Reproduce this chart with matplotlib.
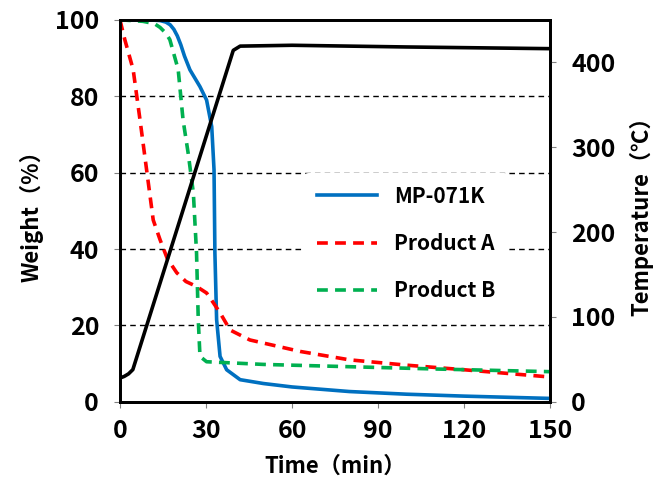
import matplotlib.pyplot as plt
import numpy as np

plt.rcParams['font.family'] = ['Noto Sans CJK JP', 'DejaVu Sans']

# weight curves (time in min, weight in %)
t_mp = [0, 10, 14, 16, 17.5, 18.8, 20, 21.2, 22.5, 24.4, 27.9, 30.2, 32, 32.8, 33.1, 33.7, 34.9, 37.2, 41.9, 50, 60, 80, 100, 120, 150]
w_mp = [100, 100, 99.8, 99.4, 98.7, 97.5, 95.8, 93.5, 90.5, 86.9, 82.5, 79, 72, 60.7, 39, 21.5, 11.9, 8.4, 5.8, 4.8, 3.9, 2.7, 2.0, 1.5, 0.9]

t_a = [0, 1.7, 4.6, 7, 9.3, 11.6, 14, 16.5, 19.8, 23, 26.7, 30.2, 32.5, 34.9, 38.4, 45.3, 62.8, 80, 100, 120, 150]
w_a = [100, 94.8, 87, 73.8, 60.7, 47.6, 42.4, 37.5, 33.8, 31.5, 30.2, 28.5, 26, 23.3, 18.8, 16.2, 13.2, 11, 9.6, 8.4, 6.5]

t_b = [0, 8, 12, 14, 16, 17.4, 20.3, 22, 23.8, 25.6, 26.7, 27.3, 27.9, 30.2, 50, 80, 110, 150]
w_b = [100, 99.6, 99, 98, 96.5, 94.8, 87, 73.8, 65, 54.6, 39, 21.5, 11.9, 10.5, 9.8, 9.2, 8.6, 7.9]

# temperature program (time in min, temperature in C)
t_temp = [0, 1.5, 3, 4.5, 39.5, 41.9, 60, 100, 150]
temp = [28, 30, 33, 38, 414, 419, 420, 418, 416]

fig = plt.figure(figsize=(6.59, 4.83), dpi=100)
ax = fig.add_axes([0.182, 0.168, 0.653, 0.791])
ax2 = ax.twinx()

for yv in [20, 40, 60, 80]:
    ax.axhline(yv, color='black', lw=1, ls=(0, (4, 3)), zorder=1)

l1, = ax.plot(t_mp, w_mp, color='#0070C0', lw=2.6, zorder=3, label='MP-071K')
l2, = ax.plot(t_a, w_a, color='#FF0000', lw=2.6, ls=(0, (3, 2)), zorder=3, label='Product A')
l3, = ax.plot(t_b, w_b, color='#00B050', lw=2.6, ls=(0, (3, 2)), zorder=3, label='Product B')
ax2.plot(t_temp, temp, color='black', lw=2.6)

ax.set_xlim(0, 150)
ax.set_ylim(0, 100)
ax2.set_ylim(0, 450)
ax.set_xticks([0, 30, 60, 90, 120, 150])
ax.set_yticks([0, 20, 40, 60, 80, 100])
ax2.set_yticks([0, 100, 200, 300, 400])

for a in (ax, ax2):
    a.tick_params(labelsize=18, length=4, color='gray', direction='out')
    a.tick_params(axis='y', pad=11)
    a.tick_params(axis='x', pad=8)
    for lab in a.get_xticklabels() + a.get_yticklabels():
        lab.set_fontweight('bold')
    for s in a.spines.values():
        s.set_linewidth(2)
        s.set_color('black')

ax.set_xlabel('Time（min）', fontsize=16, fontweight='bold', labelpad=9)
ax.set_ylabel('Weight（%）', fontsize=16, fontweight='bold', labelpad=8)
ax2.set_ylabel('Temperature（℃）', fontsize=16, fontweight='bold', labelpad=10)

leg = ax2.legend(handles=[l1, l2, l3], loc='center', bbox_to_anchor=(0.665, 0.415),
                 fontsize=15, handlelength=2.9, labelspacing=1.25, frameon=True,
                 facecolor='white', edgecolor='none', framealpha=1, borderpad=0.6,
                 handletextpad=0.8)
for txt in leg.get_texts():
    txt.set_fontweight('bold')

fig.savefig('out.png', dpi=100)
